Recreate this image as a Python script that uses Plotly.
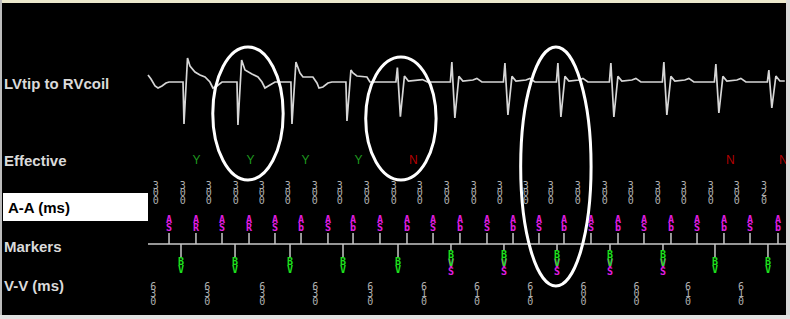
import plotly.graph_objects as go

# ---------------- data (times in ms from start of the strip) ----------------
A_TIMES = [239, 545, 841, 1148, 1443, 1739, 2045, 2330, 2636, 2943, 3239, 3545,
           3852, 4148, 4443, 4727, 5034, 5341, 5636, 5943, 6239, 6545, 6841, 7159]
A_LABELS = ["AS", "AR", "AS", "AR", "AS", "Ab", "AS", "Ab", "AS", "Ab", "AS", "Ab",
            "AS", "Ab", "AS", "Ab", "AS", "Ab", "AS", "Ab", "AS", "Ab", "AS", "Ab"]
AA_MS = [300, 300, 300, 300, 300, 300, 300, 300, 300, 300, 300, 300,
         300, 300, 300, 300, 300, 300, 300, 300, 300, 300, 300, 320]

V_TIMES = [375, 989, 1614, 2216, 2841, 3443, 4045, 4648, 5250, 5852, 6443, 7045]
V_LABELS = ["BV", "BV", "BV", "BV", "BV", "BV+VS", "BV+VS", "BV+VS", "BV+VS", "BV+VS", "BV", "BV"]
VV_MS = [630, 630, 630, 630, 630, 610, 610, 610, 600, 600, 610, 610]
EFFECTIVE = ["Y", "Y", "Y", "Y", "N", "", "", "", "", "", "N", "N"]

ECG_T = [0, 34, 80, 114, 159, 204, 239, 398,
         409, 449, 477, 534, 591, 648, 704, 738, 784, 841, 1011,
         1022, 1064, 1102, 1181, 1250, 1295, 1329, 1386, 1443, 1624,
         1636, 1681, 1727, 1761, 1874, 1920, 1943, 1988, 2045, 2090, 2249,
         2261, 2306, 2329, 2374, 2488, 2522, 2817,
         2834, 2868, 2914, 2959, 3073, 3118, 3175, 3436,
         3453, 3487, 3533, 3578, 3692, 3737, 3794, 4039,
         4056, 4090, 4136, 4181, 4295, 4340, 4397, 4641,
         4658, 4692, 4738, 4783, 4897, 4942, 4999, 5243,
         5260, 5294, 5340, 5385, 5499, 5544, 5601, 5845,
         5862, 5896, 5942, 5987, 6101, 6146, 6203, 6436,
         6453, 6487, 6533, 6578, 6692, 6737, 6794, 7038,
         7055, 7089, 7135, 7180, 7236]
ECG_MV = [0.35, 0.15, -0.2, -0.3, -0.2, -0.05, 0.0, 0.0,
          -2.1, 1.2, 0.8, 0.5, 0.35, 0.25, 0.0, -0.3, -0.2, 0.0, 0.0,
          -2.15, 1.1, 0.6, 0.4, 0.25, 0.0, -0.3, -0.15, 0.0, 0.0,
          -2.1, 1.0, 0.45, 0.25, 0.25, -0.05, -0.3, -0.25, -0.05, 0.0, 0.0,
          -1.95, 0.6, 0.45, 0.3, 0.25, 0.0, 0.0,
          0.72, -1.73, 0.3, 0.05, 0.08, 0.12, 0.0, 0.0,
          1.0, -1.8, 0.28, 0.05, 0.1, 0.18, 0.0, 0.0,
          0.95, -1.65, 0.28, 0.05, 0.1, 0.18, 0.0, 0.0,
          0.95, -1.75, 0.28, 0.05, 0.1, 0.18, 0.0, 0.0,
          0.95, -1.75, 0.28, 0.05, 0.1, 0.18, 0.0, 0.0,
          1.0, -1.65, 0.28, 0.05, 0.1, 0.18, 0.0, 0.0,
          0.9, -1.55, 0.28, 0.05, 0.1, 0.18, 0.0, 0.0,
          0.6, -1.3, 0.3, 0.05, 0.05]

CIRCLED_BEATS = [1, 4, 7]

# ---------------- style ----------------
W, H = 790, 319
PX_PER_MS = 0.088
X0_PX = 148
XR = [-X0_PX / PX_PER_MS, (W - X0_PX) / PX_PER_MS]

MAGENTA = "#e21ee2"
GREEN = "#1ee01e"
EFF_GREEN = "#1f9a1f"
EFF_RED = "#b30000"
GRAY = "#b0b0b0"
LINE = "#c8c8c8"
LABEL = "#dadada"
MONO = "DejaVu Sans Mono"
SANS = "Liberation Sans"

fig = go.Figure()

# ECG on its own mV axis
fig.add_trace(go.Scatter(x=ECG_T, y=ECG_MV, mode="lines", yaxis="y2",
                         line=dict(color="#d6d6d6", width=1.7), hoverinfo="skip"))

# marker baseline
BASE = 244
fig.add_trace(go.Scatter(x=[0, (787 - X0_PX) / PX_PER_MS], y=[BASE, BASE], mode="lines",
                         line=dict(color=LINE, width=1.5), hoverinfo="skip"))

# atrial stems
sx, sy = [], []
for t in A_TIMES:
    sx += [t, t, None]
    sy += [BASE, 233, None]
fig.add_trace(go.Scatter(x=sx, y=sy, mode="lines", line=dict(color=LINE, width=1.5), hoverinfo="skip"))

# ventricular stems
sx, sy = [], []
for t, lab in zip(V_TIMES, V_LABELS):
    end = 250 if "VS" in lab else 257
    sx += [t, t, None]
    sy += [BASE, end, None]
fig.add_trace(go.Scatter(x=sx, y=sy, mode="lines", line=dict(color=LINE, width=1.5), hoverinfo="skip"))


def stacked(xs, texts, rows, color, size=10, bold=True):
    """Stack the characters of each text vertically at the given rows."""
    n = max(len(t) for t in texts)
    for i in range(n):
        xx, tt = [], []
        for x, t in zip(xs, texts):
            if i < len(t):
                xx.append(x)
                tt.append(t[i])
        fig.add_trace(go.Scatter(x=xx, y=[rows[i]] * len(xx), mode="text", text=tt,
                                 textposition="middle center",
                                 textfont=dict(family=MONO, size=size, color=color,
                                               weight="bold" if bold else "normal"),
                                 hoverinfo="skip"))


# atrial marker letters
stacked(A_TIMES, A_LABELS, [220, 228], MAGENTA)

# ventricular marker letters
vs_x = [t for t, l in zip(V_TIMES, V_LABELS) if "VS" in l]
stacked(vs_x, ["VS"] * len(vs_x), [264, 272], MAGENTA)
bv_plain = [t for t, l in zip(V_TIMES, V_LABELS) if "VS" not in l]
stacked(bv_plain, ["BV"] * len(bv_plain), [262, 270], GREEN)
stacked(vs_x, ["BV"] * len(vs_x), [255, 263], GREEN)

# A-A intervals, centred on each interval
aa_x = [t - v / 2 for t, v in zip(A_TIMES, AA_MS)]
stacked(aa_x, [str(v) for v in AA_MS], [186, 193.5, 201], GRAY, size=10, bold=False)

# V-V intervals
vv_x = [t - v / 2 for t, v in zip(V_TIMES, VV_MS)]
stacked(vv_x, [str(v) for v in VV_MS], [287, 294.5, 302], GRAY, size=10, bold=False)

# Effective
for val, col in (("Y", EFF_GREEN), ("N", EFF_RED)):
    xs = [t + 175 for t, e in zip(V_TIMES, EFFECTIVE) if e == val]
    fig.add_trace(go.Scatter(x=xs, y=[161] * len(xs), mode="text", text=[val] * len(xs),
                             textposition="middle center",
                             textfont=dict(family=SANS, size=12, color=col),
                             hoverinfo="skip"))

shapes = []
# A-A label box
shapes.append(dict(type="rect", xref="paper", yref="y", x0=3 / W, x1=148 / W, y0=193, y1=221,
                   fillcolor="white", line=dict(width=0), layer="below"))

# highlight ellipses around chosen beats
ELL = [(147, 47, 180), (33, 57, 180), (-13, 47, 286)]
for b, (dx, y0, y1) in zip(CIRCLED_BEATS, ELL):
    c = V_TIMES[b] + dx
    shapes.append(dict(type="circle", xref="x", yref="y", x0=c - 400, x1=c + 400, y0=y0, y1=y1,
                       line=dict(color="white", width=3), layer="above"))

# window frame
def band(x0, x1, y0, y1, col):
    return dict(type="rect", xref="paper", yref="paper", x0=x0 / W, x1=x1 / W,
                y0=1 - y1 / H, y1=1 - y0 / H, fillcolor=col, line=dict(width=0), layer="above")

shapes += [band(0, W, 0, 3, "#ebe8cc"), band(0, 2, 0, H, "#bcbcbc"),
           band(786, W, 0, H, "#d9d9d9"), band(0, W, 315, H, "#e2e2e2")]

annotations = []
for txt, row in (("LVtip to RVcoil", 83), ("Effective", 160.5), ("Markers", 246), ("V-V (ms)", 285.5)):
    annotations.append(dict(text=txt, xref="paper", yref="y", x=1.5 / W, y=row, xanchor="left",
                            yanchor="middle", showarrow=False,
                            font=dict(family=SANS, size=15, color=LABEL, weight="bold")))
annotations.append(dict(text="A-A (ms)", xref="paper", yref="y", x=5.5 / W, y=207.5, xanchor="left",
                        yanchor="middle", showarrow=False,
                        font=dict(family=SANS, size=15, color="black", weight="bold")))

Y2_TOP = 82 / 20
fig.update_layout(
    width=W, height=H, autosize=False,
    margin=dict(l=0, r=0, t=0, b=0, pad=0),
    paper_bgcolor="black", plot_bgcolor="black",
    showlegend=False,
    xaxis=dict(range=XR, visible=False, fixedrange=True),
    yaxis=dict(range=[H, 0], visible=False, fixedrange=True),
    yaxis2=dict(range=[Y2_TOP - H / 20, Y2_TOP], overlaying="y", visible=False, fixedrange=True),
    shapes=shapes, annotations=annotations,
)

fig.write_html("out.html", config={"displayModeBar": False},
               post_script="document.body.style.margin='0';document.body.style.overflow='hidden';")
